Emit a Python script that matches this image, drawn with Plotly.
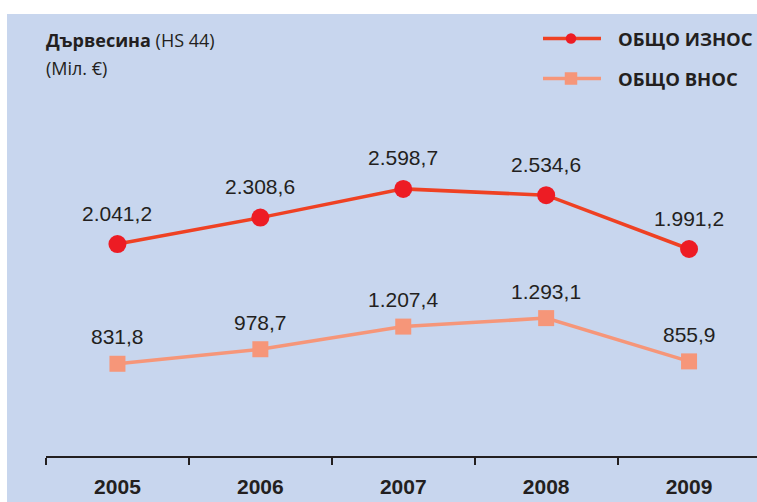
import plotly.graph_objects as go

years = ["2005", "2006", "2007", "2008", "2009"]
export_vals = [2041.2, 2308.6, 2598.7, 2534.6, 1991.2]
import_vals = [831.8, 978.7, 1207.4, 1293.1, 855.9]
export_name = "ОБЩО ИЗНОС"
import_name = "ОБЩО ВНОС"
title_bold = "Дървесина"
title_rest = " (HS 44)"
unit_text = "(Міл. €)"

def fmt(v):
    s = f"{v:,.1f}"
    return s.replace(",", "X").replace(".", ",").replace("X", ".")

xs = list(range(len(years)))
TXT = "#231F20"
EXP_LINE, EXP_MARK = "#EF4123", "#ED1C24"
IMP_COL = "#F69679"

W, H = 757, 502
ml, mr, mt, mb = 46, 0, 14, 46
pw, ph = W - ml - mr, H - mt - mb

def px(x):
    return (x - ml) / pw

def py(y):
    return 1 - (y - mt) / ph

fig = go.Figure()
fig.add_trace(go.Scatter(
    x=xs, y=export_vals, name=export_name, mode="lines+markers",
    line=dict(color=EXP_LINE, width=3.5),
    marker=dict(symbol="circle", size=18, color=EXP_MARK),
    showlegend=False, hoverinfo="skip",
))
fig.add_trace(go.Scatter(
    x=xs, y=import_vals, name=import_name, mode="lines+markers",
    line=dict(color=IMP_COL, width=3.5),
    marker=dict(symbol="square", size=16, color=IMP_COL),
    showlegend=False, hoverinfo="skip",
))

lab_font = dict(family="Liberation Sans, Arial", size=21, color=TXT)
for x, v in zip(xs, export_vals):
    fig.add_annotation(x=x, y=v, text=fmt(v), showarrow=False, yshift=31,
                       yanchor="middle", font=lab_font)
for x, v in zip(xs, import_vals):
    fig.add_annotation(x=x, y=v, text=fmt(v), showarrow=False, yshift=27,
                       yanchor="middle", font=lab_font)

# background panel
fig.add_shape(type="rect", xref="paper", yref="paper",
              x0=px(7), x1=px(W + 5), y0=py(H + 5), y1=py(14),
              fillcolor="#C8D6EE", line=dict(width=0), layer="below")

# title
tfont = dict(family="Open Sans, Noto Sans", size=18, color=TXT)
fig.add_annotation(xref="paper", yref="paper", x=px(44), y=py(39.5),
                   xanchor="left", yanchor="middle", showarrow=False,
                   text=f"<b>{title_bold}</b>{title_rest}", font=tfont)
fig.add_annotation(xref="paper", yref="paper", x=px(44), y=py(67.5),
                   xanchor="left", yanchor="middle", showarrow=False,
                   text=unit_text, font=tfont)

# legend (drawn manually)
lfont = dict(family="Open Sans, Noto Sans", size=18.5, color=TXT, weight="bold")
for name, yy, col, mcol, sym, ms in [
    (export_name, 38.5, EXP_LINE, EXP_MARK, "circle", 10.5),
    (import_name, 78.5, IMP_COL, IMP_COL, "rect", 12.5),
]:
    fig.add_shape(type="line", xref="paper", yref="paper",
                  x0=px(543), x1=px(601), y0=py(yy), y1=py(yy),
                  line=dict(color=col, width=3.5))
    fig.add_shape(type=sym, xref="paper", yref="paper",
                  xsizemode="pixel", ysizemode="pixel",
                  xanchor=px(571), yanchor=py(yy),
                  x0=-ms / 2, x1=ms / 2, y0=-ms / 2, y1=ms / 2,
                  fillcolor=mcol, line=dict(width=0))
    fig.add_annotation(xref="paper", yref="paper", x=px(616), y=py(yy - 0.5),
                       xanchor="left", yanchor="middle", showarrow=False,
                       text=name, font=lfont)

fig.update_layout(
    width=W, height=H,
    margin=dict(l=ml, r=mr, t=mt, b=mb, pad=0),
    paper_bgcolor="white", plot_bgcolor="rgba(0,0,0,0)",
    showlegend=False,
    xaxis=dict(
        range=[-0.5, -0.5 + pw / 142.9], showgrid=False, zeroline=False,
        showline=True, linecolor=TXT, linewidth=2,
        tickmode="array", tickvals=xs, ticktext=years, ticks="",
        ticklabelstandoff=11,
        tickfont=dict(family="Liberation Sans, Arial", size=21, color=TXT, weight="bold"),
        minor=dict(tickmode="array", tickvals=[i - 0.5 for i in range(len(years) + 1)],
                   ticks="outside", ticklen=7, tickwidth=2, tickcolor=TXT),
        fixedrange=True,
    ),
    yaxis=dict(range=[-100, -100 + ph / 0.09898], visible=False,
               showgrid=False, zeroline=False, fixedrange=True),
)

fig.write_html("out.html", config={"displayModeBar": False, "staticPlot": True},
               post_script="document.body.style.margin='0px';document.body.style.overflow='hidden';")
